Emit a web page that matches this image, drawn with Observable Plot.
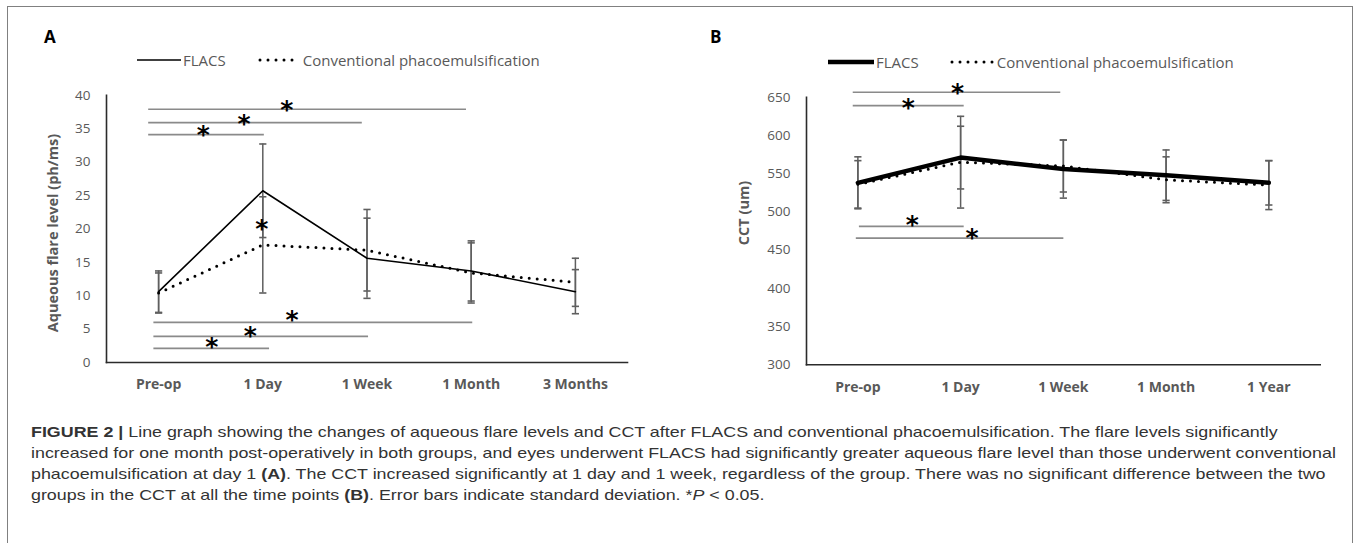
<!DOCTYPE html>
<html>
<head>
<meta charset="utf-8">
<script src="https://cdn.jsdelivr.net/npm/d3@7"></script>
<script src="https://cdn.jsdelivr.net/npm/@observablehq/plot@0.6"></script>
<style>
  html, body { margin: 0; padding: 0; background: #fff; }
  body { width: 1358px; height: 543px; position: relative; overflow: hidden; font-family: "Open Sans", sans-serif; }
  #box { position: absolute; left: 7px; top: 6px; width: 1346px; height: 545px; border: 1.5px solid #808080; box-sizing: border-box; }
  .panel { position: absolute; top: 0; }
  .letter { position: absolute; font: bold 17px "Open Sans", sans-serif; color: #000; }
  .legend { position: absolute; font: 15px "Open Sans", sans-serif; color: #595959; white-space: nowrap; display: flex; align-items: center; }
  .legend svg { display: block; }
  .ytitle { position: absolute; font: bold 14.5px "Open Sans", sans-serif; color: #595959; white-space: nowrap; transform: translate(-50%, -50%) rotate(-90deg); }
  #caption { position: absolute; left: 31px; top: 421px; font: 15px "Liberation Sans", Arial, sans-serif; line-height: 21px; color: #333; white-space: nowrap; transform: scaleX(1.19); transform-origin: 0 0; }
</style>
</head>
<body>
<div id="box"></div>
<div id="panelA" class="panel" style="left:0px"></div>
<div id="panelB" class="panel" style="left:680px"></div>

<div class="letter" style="left:44px; top:25px">A</div>
<div class="letter" style="left:710px; top:25px">B</div>

<div class="legend" style="left:137px; top:49px">
  <svg width="44" height="22"><line x1="0" x2="44" y1="11" y2="11" stroke="#000" stroke-width="1.5"/></svg>
  <span style="margin-left:2px">FLACS</span>
  <svg width="46" height="22" style="margin-left:31px"><line x1="3" x2="43" y1="11" y2="11" stroke="#000" stroke-width="3" stroke-dasharray="0,8" stroke-linecap="round"/></svg>
  <span>Conventional phacoemulsification</span>
</div>
<div class="legend" style="left:828px; top:51px">
  <svg width="46" height="22"><line x1="0" x2="46" y1="11" y2="11" stroke="#000" stroke-width="4.5"/></svg>
  <span style="margin-left:2px">FLACS</span>
  <svg width="48" height="22" style="margin-left:30px"><line x1="3" x2="45" y1="11" y2="11" stroke="#000" stroke-width="3" stroke-dasharray="0,8" stroke-linecap="round"/></svg>
  <span>Conventional phacoemulsification</span>
</div>

<div class="ytitle" style="left:52px; top:233px">Aqueous flare level (ph/ms)</div>
<div class="ytitle" style="left:743px; top:213px">CCT (um)</div>

<div id="caption"><b>FIGURE 2 |</b> Line graph showing the changes of aqueous flare levels and CCT after FLACS and conventional phacoemulsification. The flare levels significantly<br>increased for one month post-operatively in both groups, and eyes underwent FLACS had significantly greater aqueous flare level than those underwent conventional<br>phacoemulsification at day 1 <b>(A)</b>. The CCT increased significantly at 1 day and 1 week, regardless of the group. There was no significant difference between the two<br>groups in the CCT at all the time points <b>(B)</b>. Error bars indicate standard deviation. *<i>P</i> &lt; 0.05.</div>

<script>
// ---------- Panel A: aqueous flare ----------
const categoriesA = ["Pre-op", "1 Day", "1 Week", "1 Month", "3 Months"];
const flacsA   = [10.6, 25.7, 15.6, 13.7, 10.6];
const flacsSdA = [3.1, 7.0, 6.0, 4.5, 3.3];
const convA    = [10.4, 17.6, 16.8, 13.4, 12.0];
const convSdA  = [3.0, 7.2, 6.1, 4.5, 3.6];
const yTicksA  = [0, 5, 10, 15, 20, 25, 30, 35, 40];
// significance bars (x in category index units)
const sigYA  = [37.9, 35.9, 34.1, 6.0, 3.9, 2.1];
const sigX1A = [-0.10, -0.10, -0.10, -0.05, -0.05, -0.05];
const sigX2A = [2.95, 1.95, 1.01, 3.01, 2.01, 1.06];
const starXA = [1.23, 0.82, 0.43, 0.99, 1.28, 0.88, 0.51];
const starYA = [38.9, 36.8, 35.1, 21.0, 7.4, 5.0, 3.3];

// ---------- Panel B: CCT ----------
const categoriesB = ["Pre-op", "1 Day", "1 Week", "1 Month", "1 Year"];
const flacsB   = [538, 571, 556, 548, 538];
const flacsSdB = [34, 41, 38, 33, 29];
const convB    = [536, 565, 560, 542, 535];
const convSdB  = [31, 60, 34, 30, 32];
const yTicksB  = [300, 350, 400, 450, 500, 550, 600, 650];
const sigYB  = [656.5, 639, 481, 465.6];
const sigX1B = [-0.05, -0.05, 0.01, -0.02];
const sigX2B = [1.97, 1.03, 1.03, 2.0];
const starXB = [0.97, 0.49, 0.53, 1.11];
const starYB = [665, 644.5, 492, 475.5];

const hbar = {
  draw(ctx, size) {
    const r = Math.sqrt(size / Math.PI);
    ctx.moveTo(-r, 0);
    ctx.lineTo(r, 0);
  }
};

function panel({categories, flacs, flacsSd, conv, convSd, yTicks, yDomain, sigY, sigX1, sigX2, starX, starY,
                width, marginLeft, marginRight, marginTop, marginBottom, flacsWidth}) {
  const idx = categories.map((_, i) => i);
  const caps = [];
  idx.forEach(i => {
    caps.push({x: i, y: flacs[i] + flacsSd[i]}, {x: i, y: flacs[i] - flacsSd[i]});
    caps.push({x: i, y: conv[i] + convSd[i]}, {x: i, y: conv[i] - convSd[i]});
  });
  const bars = [];
  idx.forEach(i => {
    bars.push({x: i, y1: flacs[i] - flacsSd[i], y2: flacs[i] + flacsSd[i]});
    bars.push({x: i, y1: conv[i] - convSd[i], y2: conv[i] + convSd[i]});
  });
  const sig = sigY.map((y, k) => ({y, x1: sigX1[k], x2: sigX2[k]}));
  const stars = starX.map((x, k) => ({x, y: starY[k]}));
  return Plot.plot({
    width, height: 400,
    marginLeft, marginRight, marginTop, marginBottom,
    style: {fontFamily: "Open Sans", background: "transparent", overflow: "visible"},
    x: {type: "linear", domain: [-0.5, categories.length - 0.5]},
    y: {domain: yDomain},
    marks: [
      Plot.axisY({ticks: yTicks, tickSize: 0, tickPadding: 16, label: null, fontSize: 13.5, color: "#595959"}),
      Plot.axisX({ticks: idx, tickFormat: i => categories[i], tickSize: 0, tickPadding: 17, label: null,
                  fontSize: 14, fontWeight: "bold", color: "#595959"}),
      Plot.frame({anchor: "left", stroke: "#2b2b2b", strokeWidth: 1.6}),
      Plot.frame({anchor: "bottom", stroke: "#2b2b2b", strokeWidth: 1.6}),
      Plot.link(sig, {x1: "x1", x2: "x2", y1: "y", y2: "y", stroke: "#8a8a8a", strokeWidth: 1.7}),
      Plot.ruleX(bars, {x: "x", y1: "y1", y2: "y2", stroke: "#5f5f5f", strokeWidth: 1.5}),
      Plot.dot(caps, {x: "x", y: "y", symbol: hbar, r: 3.6, stroke: "#5f5f5f", strokeWidth: 1.6, fill: "none"}),
      Plot.line(idx, {x: i => i, y: i => flacs[i], stroke: "#000", strokeWidth: flacsWidth}),
      Plot.line(idx, {x: i => i, y: i => conv[i], stroke: "#000", strokeWidth: 3, strokeDasharray: "0,8", strokeLinecap: "round"}),
      Plot.text(stars, {x: "x", y: "y", text: () => "*", fontSize: 25, fontWeight: "bold", fill: "#000", dy: 7, fontFamily: "DejaVu Sans"})
    ]
  });
}

document.getElementById("panelA").append(panel({
  categories: categoriesA, flacs: flacsA, flacsSd: flacsSdA, conv: convA, convSd: convSdA,
  yTicks: yTicksA, yDomain: [0, 40], sigY: sigYA, sigX1: sigX1A, sigX2: sigX2A, starX: starXA, starY: starYA,
  width: 680, marginLeft: 106, marginRight: 53, marginTop: 94.7, marginBottom: 38, flacsWidth: 1.6
}));
document.getElementById("panelB").append(panel({
  categories: categoriesB, flacs: flacsB, flacsSd: flacsSdB, conv: convB, convSd: convSdB,
  yTicks: yTicksB, yDomain: [300, 650], sigY: sigYB, sigX1: sigX1B, sigX2: sigX2B, starX: starXB, starY: starYB,
  width: 678, marginLeft: 126, marginRight: 38.3, marginTop: 96.7, marginBottom: 35.7, flacsWidth: 4.5
}));
</script>
</body>
</html>
